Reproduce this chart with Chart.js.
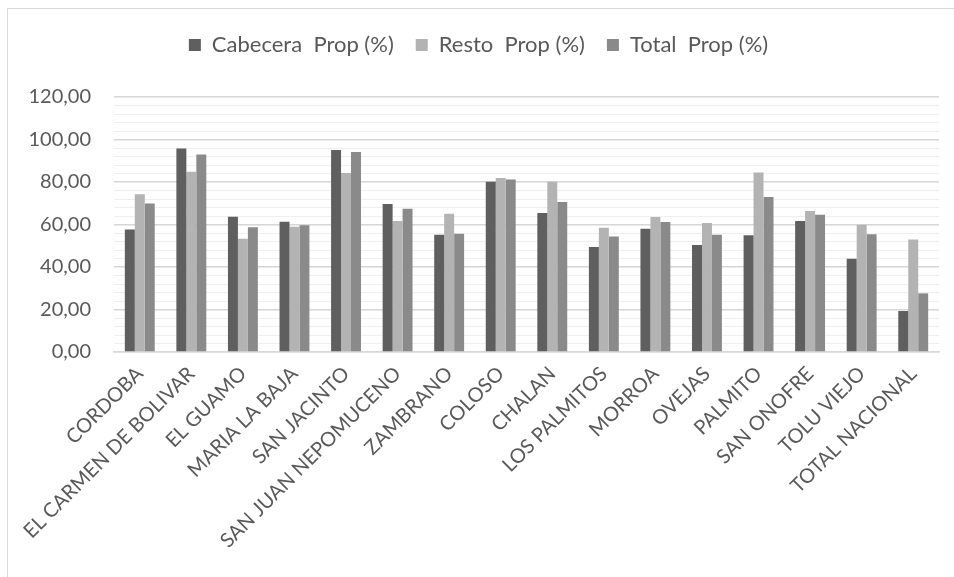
<!DOCTYPE html>
<html>
<head>
<meta charset="utf-8">
<script src="https://cdn.jsdelivr.net/npm/chart.js@4/dist/chart.umd.min.js"></script>
<style>
  html, body { margin: 0; padding: 0; background: #fff; overflow: hidden; }
  #frame {
    position: absolute; left: 7px; top: 8px;
    width: 1000px; height: 1000px;
    border: 1px solid #d9d9d9;
  }
  #chart { position: absolute; left: 0; top: 0; }
</style>
</head>
<body>
<div id="frame"></div>
<canvas id="chart" width="954" height="577"></canvas>
<script>
// Categories (municipios)
const categories = [
  'CORDOBA', 'EL CARMEN DE BOLIVAR', 'EL GUAMO', 'MARIA LA BAJA', 'SAN JACINTO',
  'SAN JUAN NEPOMUCENO', 'ZAMBRANO', 'COLOSO', 'CHALAN', 'LOS PALMITOS',
  'MORROA', 'OVEJAS', 'PALMITO', 'SAN ONOFRE', 'TOLU VIEJO', 'TOTAL NACIONAL'
];

// Series values
const cabecera = [57.6, 95.8, 63.7, 61.3, 95.1, 69.6, 55.2, 80.1, 65.4, 49.4, 58.0, 50.3, 54.9, 61.6, 43.9, 19.3];
const resto    = [74.2, 84.8, 53.3, 59.0, 84.2, 61.6, 65.1, 81.9, 80.1, 58.5, 63.5, 60.7, 84.5, 66.3, 59.9, 53.0];
const total    = [69.9, 93.0, 58.7, 59.6, 94.1, 67.4, 55.7, 81.2, 70.6, 54.4, 61.2, 55.2, 72.9, 64.6, 55.4, 27.6];

const seriesNames = ['Cabecera  Prop (%)', 'Resto  Prop (%)', 'Total  Prop (%)'];

// Y axis: 0..120, labelled every 20, minor lines every 4
const yMin = 0;
const yMax = 120;
const yMinorStep = 4;
const yMajorStep = 20;

const textColor = '#595959';
const fontFamily = 'Lato, "Open Sans", sans-serif';

// force legend block height so the plot starts where the reference does
const legendHeight = {
  id: 'legendHeight',
  beforeInit(chart) {
    const legend = chart.legend;
    if (!legend) return;
    const fit = legend.fit;
    legend.fit = function() {
      fit.call(this);
      this.height = 85;
    };
  }
};

new Chart(document.getElementById('chart').getContext('2d'), {
  type: 'bar',
  data: {
    labels: categories,
    datasets: [
      { label: seriesNames[0], data: cabecera, backgroundColor: '#5f5f5f' },
      { label: seriesNames[1], data: resto, backgroundColor: '#b3b3b3' },
      { label: seriesNames[2], data: total, backgroundColor: '#8a8a8a' }
    ]
  },
  options: {
    responsive: false,
    devicePixelRatio: 1,
    animation: false,
    layout: { padding: { top: 12, right: 15, left: 18, bottom: 0 } },
    datasets: {
      bar: { categoryPercentage: 0.58, barPercentage: 1 }
    },
    plugins: {
      legend: {
        position: 'top',
        labels: {
          boxWidth: 12,
          boxHeight: 12,
          padding: 22,
          color: textColor,
          font: { family: fontFamily, size: 22 }
        }
      },
      tooltip: { enabled: false }
    },
    scales: {
      x: {
        grid: { display: false, drawTicks: false },
        border: { color: '#d9d9d9', width: 1.5 },
        ticks: {
          autoSkip: false,
          maxRotation: 45,
          minRotation: 45,
          padding: 10,
          color: textColor,
          font: { family: fontFamily, size: 20 }
        },
        afterFit(scale) { scale.height = 225; }
      },
      y: {
        min: yMin,
        max: yMax,
        border: { display: false },
        grid: {
          drawTicks: false,
          color: ctx => (ctx.tick && ctx.tick.value % yMajorStep === 0) ? '#d6d6d6' : '#efefef',
          lineWidth: ctx => (ctx.tick && ctx.tick.value % yMajorStep === 0) ? 1.5 : 1
        },
        ticks: {
          stepSize: yMinorStep,
          autoSkip: false,
          padding: 23,
          color: textColor,
          font: { family: fontFamily, size: 20 },
          callback: v => v % yMajorStep === 0 ? v.toFixed(2).replace('.', ',') : ''
        },
        afterFit(scale) { scale.width = 96; }
      }
    }
  },
  plugins: [legendHeight]
});
</script>
</body>
</html>
